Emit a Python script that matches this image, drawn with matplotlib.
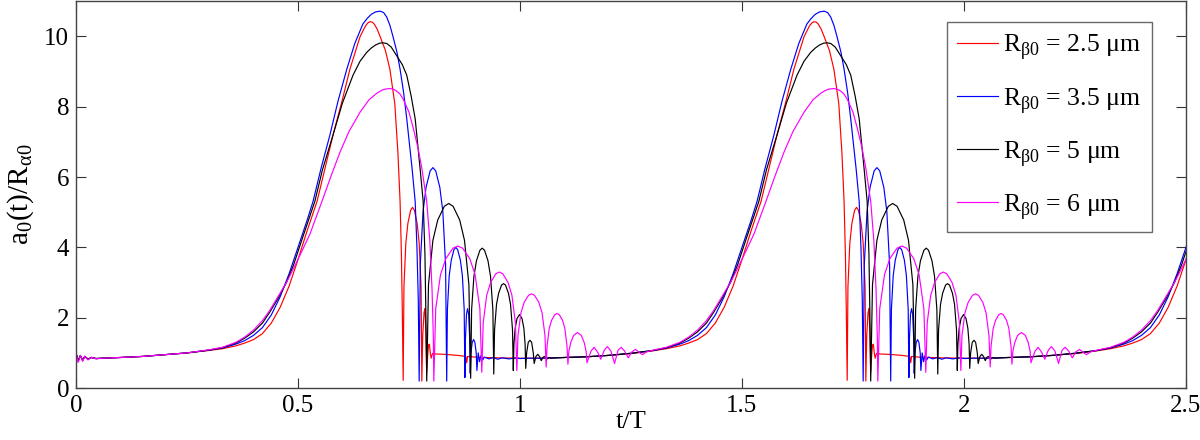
import numpy as np
import matplotlib
matplotlib.use("Agg")
import matplotlib.pyplot as plt

plt.rcParams['font.family'] = ['Liberation Serif', 'DejaVu Serif']
plt.rcParams['mathtext.fontset'] = 'custom'
plt.rcParams['mathtext.rm'] = 'Liberation Serif'

# start of the run (t/T = 0 .. 0.3), shared time axis
init_t = [0.0, 0.005, 0.01, 0.015, 0.02, 0.027, 0.035, 0.045, 0.06, 0.1, 0.15, 0.2, 0.25, 0.3]
init_red = [1.0, 0.8, 0.92, 0.8, 0.9, 0.83, 0.87, 0.84, 0.85, 0.87, 0.9, 0.95, 1.0, 1.07]
init_blue = [1.0, 0.76, 0.93, 0.78, 0.9, 0.82, 0.87, 0.84, 0.85, 0.87, 0.9, 0.95, 1.0, 1.08]
init_black = [1.0, 0.77, 0.92, 0.79, 0.9, 0.82, 0.87, 0.84, 0.85, 0.87, 0.9, 0.95, 1.0, 1.08]
init_mag = [1.0, 0.73, 0.93, 0.76, 0.91, 0.8, 0.88, 0.83, 0.85, 0.87, 0.9, 0.95, 1.0, 1.09]

# one acoustic period, t/T = 0.3 .. 1.3 (repeats every period)
red_t = [0.30, 0.33, 0.36, 0.38, 0.40, 0.42, 0.44, 0.46, 0.48, 0.50, 0.52, 0.543, 0.56, 0.579,
         0.60, 0.617, 0.64, 0.652, 0.657, 0.662, 0.667, 0.672, 0.678, 0.685, 0.697, 0.707, 0.718,
         0.725, 0.730, 0.733, 0.735, 0.737,
         0.7387, 0.7429, 0.7475, 0.7538, 0.758, 0.7622, 0.7685, 0.7731, 0.7773, 0.779,
         0.781, 0.784, 0.786, 0.788, 0.790, 0.792, 0.794, 0.796, 0.798, 0.800, 0.803, 0.806,
         0.81, 0.83, 0.86, 0.878, 0.880, 0.882, 0.9, 0.95, 1.0, 1.05, 1.1, 1.15, 1.2, 1.25, 1.3]
red_y = [1.07, 1.12, 1.2, 1.28, 1.38, 1.55, 1.85, 2.3, 2.9, 3.65, 4.45, 5.31, 6.2, 7.2,
         8.2, 9.07, 10.0, 10.3, 10.38, 10.42, 10.41, 10.35, 10.22, 10.0, 9.6, 9.07, 8.1,
         6.72, 5.31, 3.8, 2.2, 0.22,
         2.88, 4.11, 4.68, 5.06, 5.14, 5.06, 4.68, 4.11, 2.88, 0.2,
         1.5, 2.15, 2.26, 1.6, 0.45, 0.9, 1.22, 1.25, 1.0, 0.85, 0.98, 1.0,
         0.97, 0.96, 0.93, 0.9, 0.72, 0.9, 0.88, 0.86, 0.85, 0.85, 0.87, 0.89, 0.93, 0.98, 1.06]

blue_t = [0.30, 0.33, 0.36, 0.38, 0.40, 0.42, 0.44, 0.46, 0.48, 0.50, 0.52, 0.534, 0.552, 0.572,
          0.59, 0.61, 0.628, 0.646, 0.655, 0.665, 0.675, 0.685, 0.693, 0.700, 0.707, 0.714, 0.723,
          0.730, 0.738, 0.745, 0.757, 0.764, 0.768, 0.771, 0.773,
          0.7755, 0.7817, 0.7885, 0.7978, 0.804, 0.8102, 0.8195, 0.8263, 0.8325, 0.835,
          0.8366, 0.8407, 0.8453, 0.8514, 0.8555, 0.8596, 0.8658, 0.8703, 0.8744, 0.876,
          0.8772, 0.8796, 0.882, 0.8844, 0.8868, 0.888,
          0.8895, 0.8925, 0.8955, 0.8985, 0.9015, 0.903,
          0.906, 0.909, 0.912, 0.916, 0.92, 0.93, 0.94, 0.95, 0.96, 0.975, 0.99, 1.0, 1.02,
          1.05, 1.1, 1.15, 1.2, 1.25, 1.3]
blue_y = [1.08, 1.14, 1.25, 1.35, 1.5, 1.72, 2.08, 2.6, 3.25, 4.0, 4.75, 5.31, 6.25, 7.2,
          8.15, 9.07, 9.8, 10.35, 10.5, 10.63, 10.7, 10.72, 10.68, 10.55, 10.32, 10.0, 9.55,
          9.07, 8.4, 7.66, 6.25, 5.31, 4.0, 2.5, 0.2,
          3.51, 5.02, 5.71, 6.18, 6.27, 6.18, 5.71, 5.02, 3.51, 0.2,
          2.24, 3.2, 3.64, 3.94, 4.0, 3.94, 3.64, 3.2, 2.24, 0.3,
          1.4, 2.1, 2.26, 2.1, 1.4, 0.42,
          1.0, 1.3, 1.38, 1.3, 1.0, 0.5,
          1.0, 0.75, 0.92, 0.8, 0.88, 0.83, 0.87, 0.82, 0.86, 0.83, 0.86, 0.84, 0.85,
          0.85, 0.87, 0.89, 0.93, 0.99, 1.07]

black_t = [0.30, 0.33, 0.36, 0.38, 0.40, 0.42, 0.436, 0.455, 0.474, 0.49, 0.511, 0.538, 0.555,
           0.579, 0.60, 0.624, 0.64, 0.655, 0.665, 0.675, 0.684, 0.692, 0.70, 0.71, 0.722, 0.735,
           0.745, 0.755, 0.764, 0.775, 0.782, 0.786, 0.788, 0.790,
           0.794, 0.8039, 0.8148, 0.8296, 0.8395, 0.8494, 0.8643, 0.8751, 0.885, 0.889,
           0.8911, 0.8963, 0.902, 0.9098, 0.915, 0.9202, 0.928, 0.9337, 0.939, 0.941,
           0.9428, 0.9472, 0.952, 0.9586, 0.963, 0.9674, 0.974, 0.9788, 0.9832, 0.985,
           0.9864, 0.9892, 0.9934, 0.999, 1.0046, 1.0088, 1.0116, 1.013,
           1.015, 1.0187, 1.0225, 1.0263, 1.030, 1.032,
           1.036, 1.040, 1.044, 1.048, 1.052, 1.056, 1.06, 1.065, 1.07, 1.1, 1.15, 1.2, 1.25, 1.3]
black_y = [1.08, 1.15, 1.28, 1.42, 1.6, 1.85, 2.15, 2.55, 3.0, 3.5, 4.3, 5.31, 6.2,
           7.2, 8.1, 8.9, 9.3, 9.55, 9.67, 9.76, 9.81, 9.82, 9.8, 9.7, 9.46, 9.2,
           8.9, 8.3, 7.66, 6.25, 5.31, 3.8, 2.2, 0.2,
           2.94, 4.2, 4.78, 5.17, 5.25, 5.17, 4.78, 4.2, 2.94, 0.28,
           2.23, 3.18, 3.62, 3.92, 3.98, 3.92, 3.62, 3.18, 2.23, 0.4,
           1.66, 2.38, 2.7, 2.93, 2.97, 2.93, 2.7, 2.38, 1.66, 0.5,
           1.25, 1.7, 1.98, 2.09, 1.98, 1.7, 1.25, 0.56,
           1.0, 1.3, 1.36, 1.3, 1.0, 0.7,
           0.9, 0.96, 0.9, 0.78, 0.88, 0.9, 0.82, 0.87, 0.85, 0.87, 0.89, 0.93, 0.99, 1.07]

mag_t = [0.30, 0.33, 0.36, 0.38, 0.40, 0.42, 0.436, 0.455, 0.474, 0.49, 0.511, 0.527, 0.554,
         0.575, 0.595, 0.615, 0.640, 0.66, 0.677, 0.687, 0.695, 0.707, 0.715, 0.722, 0.73, 0.737,
         0.750, 0.760, 0.770, 0.779, 0.790, 0.797, 0.802, 0.805, 0.806,
         0.8103, 0.8211, 0.833, 0.8492, 0.86, 0.8708, 0.887, 0.8989, 0.9097, 0.914,
         0.9172, 0.9251, 0.9338, 0.9456, 0.9535, 0.9614, 0.9733, 0.9819, 0.9898, 0.993,
         0.9956, 1.0022, 1.0095, 1.0194, 1.026, 1.0326, 1.0425, 1.0498, 1.0563, 1.059,
         1.061, 1.0659, 1.0713, 1.0786, 1.0835, 1.0884, 1.0958, 1.1011, 1.106, 1.108,
         1.1102, 1.1145, 1.1209, 1.1295, 1.1381, 1.1446, 1.1489, 1.151,
         1.16, 1.167, 1.175, 1.182, 1.19, 1.197, 1.205, 1.213, 1.221, 1.228, 1.236, 1.244,
         1.252, 1.26, 1.268, 1.276, 1.285, 1.3]
mag_y = [1.09, 1.16, 1.3, 1.45, 1.65, 1.92, 2.2, 2.6, 3.0, 3.4, 3.95, 4.38, 5.31,
         6.05, 6.72, 7.3, 7.85, 8.2, 8.38, 8.46, 8.5, 8.52, 8.5, 8.45, 8.36, 8.22,
         7.85, 7.38, 6.85, 6.25, 5.31, 4.2, 2.8, 1.4, 0.2,
         2.26, 3.23, 3.68, 3.98, 4.04, 3.98, 3.68, 3.23, 2.26, 0.45,
         1.85, 2.64, 3.0, 3.25, 3.3, 3.25, 3.0, 2.64, 1.85, 0.5,
         1.5, 2.14, 2.44, 2.64, 2.68, 2.64, 2.44, 2.14, 1.5, 0.6,
         1.19, 1.7, 1.93, 2.09, 2.12, 2.09, 1.93, 1.7, 1.19, 0.68,
         1.05, 1.3, 1.5, 1.58, 1.5, 1.3, 1.05, 0.72,
         1.05, 1.16, 1.02, 0.82, 1.08, 1.18, 1.05, 0.7, 1.08, 1.16, 1.05, 0.86,
         1.03, 1.1, 1.02, 0.95, 1.03, 1.08]

labels = [u'R$_{\\mathregular{\u03b20}}$ = 2.5 \u03bcm', u'R$_{\\mathregular{\u03b20}}$ = 3.5 \u03bcm',
          u'R$_{\\mathregular{\u03b20}}$ = 5 \u03bcm', u'R$_{\\mathregular{\u03b20}}$ = 6 \u03bcm']
colors = ['#ff0000', '#0000ff', '#000000', '#ff00ff']
n_periods = 3

series = [(init_red, red_t, red_y), (init_blue, blue_t, blue_y),
          (init_black, black_t, black_y), (init_mag, mag_t, mag_y)]

fig = plt.figure(figsize=(12, 4.4), dpi=100)
ax = fig.add_axes([0.0633, 0.118, 0.925, 0.879])

for (iy, ct, cy), lab, col in zip(series, labels, colors):
    t_all = list(init_t)
    y_all = list(iy)
    for k in range(n_periods):
        t_all += [t + k for t in ct[1:]]
        y_all += cy[1:]
    ax.plot(t_all, y_all, color=col, lw=0.85, label=lab)

ax.set_xlim(0, 2.5)
ax.set_ylim(0, 11)
ax.set_xticks([0, 0.5, 1, 1.5, 2, 2.5])
ax.set_xticklabels(['0', '0.5', '1', '1.5', '2', '2.5'])
ax.set_yticks([0, 2, 4, 6, 8, 10])
ax.tick_params(direction='in', top=True, right=True, length=7, width=0.8,
               labelsize=18, color='#333333', pad=5)
for sp in ax.spines.values():
    sp.set_color('#444444')
    sp.set_linewidth(1.0)

ax.set_xlabel('t/T', fontsize=19, labelpad=-4)
ax.set_ylabel(u'a$_{\\mathregular{0}}$(t)/R$_{\\mathregular{\u03b10}}$', fontsize=21, labelpad=6)

leg = ax.legend(loc='upper right', bbox_to_anchor=(0.969, 0.946), fontsize=18.5,
                frameon=True, fancybox=False, edgecolor='#444444', handlelength=1.6,
                handletextpad=0.2, labelspacing=0.9, borderpad=0.4, borderaxespad=0)
leg.get_frame().set_linewidth(1.0)

fig.savefig('out.png', dpi=100)
